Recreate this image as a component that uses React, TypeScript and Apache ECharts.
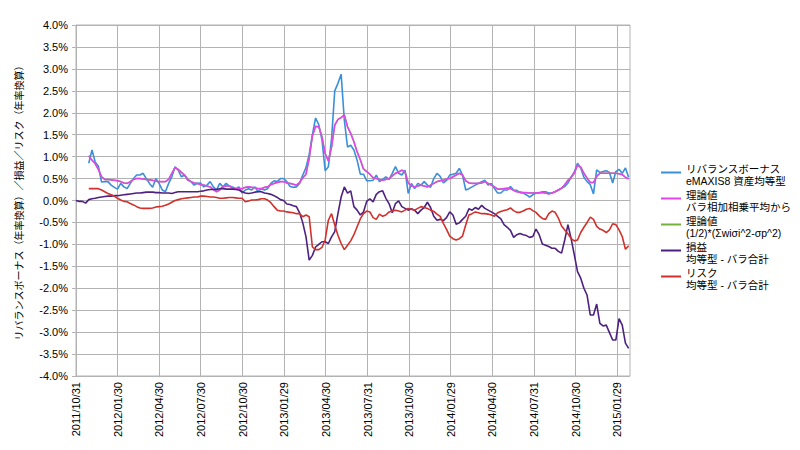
import React, { useEffect, useRef } from "react";
import * as echarts from "echarts";

// ---- data (values in %) : weekly samples starting 2011/10/31 ----
const START = [2011, 10, 31];
const WEEKS = 174;

const tickLabels = [
  "2011/10/31", "2012/01/30", "2012/04/30", "2012/07/30", "2012/10/30",
  "2013/01/29", "2013/04/30", "2013/07/31", "2013/10/30", "2014/01/29",
  "2014/04/30", "2014/07/31", "2014/10/30", "2015/01/29",
];
const axisEnd = "2015/02/26";

const seriesNames = [
  "リバランスボーナス\neMAXIS8 資産均等型",
  "理論値\nバラ相加相乗平均から",
  "理論値\n(1/2)*(Σwiσi^2-σp^2)",
  "損益\n均等型 - バラ合計",
  "リスク\n均等型 - バラ合計",
];

const rebalanceBonus = [
  null, null, null, null, 0.85, 1.15, 0.88, 0.78, 0.42, 0.43,
  0.43, 0.35, 0.3, 0.26, 0.39, 0.31, 0.27, 0.39, 0.5, 0.58,
  0.58, 0.62, 0.5, 0.39, 0.3, 0.5, 0.39, 0.24, 0.2, 0.39,
  0.54, 0.77, 0.69, 0.54, 0.58, 0.46, 0.43, 0.35, 0.39, 0.4,
  0.31, 0.35, 0.43, 0.31, 0.24, 0.39, 0.31, 0.39, 0.33, 0.31,
  0.27, 0.31, 0.17, 0.24, 0.27, 0.24, 0.31, 0.2, 0.27, 0.24,
  0.27, 0.39, 0.45, 0.43, 0.5, 0.5, 0.43, 0.32, 0.3, 0.31,
  0.39, 0.58, 0.75, 1.05, 1.5, 1.88, 1.73, 1.38, 0.68, 0.77,
  1.4, 2.5, 2.67, 2.88, 1.83, 1.22, 1.26, 1.15, 0.92, 0.6,
  0.6, 0.45, 0.45, 0.46, 0.58, 0.43, 0.48, 0.54, 0.48, 0.62,
  0.77, 0.62, 0.58, 0.69, 0.16, 0.39, 0.27, 0.39, 0.35, 0.43,
  0.35, 0.3, 0.5, 0.62, 0.55, 0.4, 0.46, 0.58, 0.6, 0.62,
  0.73, 0.58, 0.24, 0.27, 0.31, 0.35, 0.39, 0.43, 0.46, 0.35,
  0.39, 0.27, 0.17, 0.17, 0.24, 0.24, 0.32, 0.24, 0.23, 0.18,
  0.17, 0.13, 0.08, 0.13, 0.17, 0.17, 0.2, 0.2, 0.17, 0.17,
  0.2, 0.24, 0.28, 0.32, 0.4, 0.53, 0.65, 0.85, 0.74, 0.53,
  0.43, 0.36, 0.15, 0.7, 0.64, 0.66, 0.68, 0.64, 0.4, 0.66,
  0.71, 0.62, 0.74, 0.53,
];

const theoryMean = [
  null, null, null, null, 1.02, 0.92, 0.84, 0.71, 0.54, 0.48,
  0.48, 0.47, 0.46, 0.45, 0.43, 0.4, 0.39, 0.43, 0.48, 0.5,
  0.5, 0.49, 0.48, 0.47, 0.46, 0.44, 0.43, 0.43, 0.43, 0.48,
  0.62, 0.75, 0.71, 0.64, 0.58, 0.48, 0.43, 0.4, 0.39, 0.36,
  0.35, 0.33, 0.31, 0.25, 0.2, 0.24, 0.31, 0.33, 0.33, 0.28,
  0.27, 0.27, 0.27, 0.3, 0.31, 0.3, 0.29, 0.27, 0.27, 0.3,
  0.31, 0.36, 0.39, 0.41, 0.43, 0.43, 0.4, 0.39, 0.37, 0.35,
  0.41, 0.52, 0.6, 0.96, 1.47, 1.69, 1.68, 1.45, 1.07, 0.9,
  1.22, 1.72, 1.85, 1.89, 1.95, 1.68, 1.53, 1.34, 1.11, 0.93,
  0.72, 0.66, 0.6, 0.52, 0.5, 0.48, 0.46, 0.48, 0.5, 0.56,
  0.62, 0.65, 0.69, 0.65, 0.4, 0.33, 0.31, 0.33, 0.35, 0.33,
  0.31, 0.35, 0.39, 0.43, 0.45, 0.46, 0.49, 0.5, 0.54, 0.58,
  0.62, 0.58, 0.45, 0.4, 0.39, 0.39, 0.39, 0.4, 0.43, 0.39,
  0.35, 0.31, 0.26, 0.26, 0.27, 0.28, 0.27, 0.23, 0.2, 0.19,
  0.18, 0.18, 0.17, 0.17, 0.17, 0.18, 0.18, 0.17, 0.15, 0.17,
  0.2, 0.24, 0.28, 0.36, 0.46, 0.53, 0.62, 0.81, 0.76, 0.62,
  0.51, 0.41, 0.41, 0.55, 0.62, 0.62, 0.62, 0.62, 0.62, 0.62,
  0.61, 0.59, 0.53, 0.49,
];

// the second theoretical value coincides with the first one in the picture
const theoryCov = theoryMean.slice();

const profitLoss = [
  0.0, -0.02, -0.02, -0.06, 0.02, 0.04, 0.05, 0.07, 0.08, 0.09,
  0.1, 0.1, 0.11, 0.11, 0.12, 0.13, 0.14, 0.15, 0.16, 0.17,
  0.17, 0.18, 0.19, 0.19, 0.19, 0.18, 0.18, 0.17, 0.17, 0.17,
  0.16, 0.18, 0.2, 0.2, 0.2, 0.2, 0.2, 0.2, 0.2, 0.21,
  0.22, 0.24, 0.25, 0.25, 0.25, 0.27, 0.27, 0.26, 0.26, 0.26,
  0.25, 0.24, 0.2, 0.17, 0.16, 0.17, 0.19, 0.2, 0.2, 0.17,
  0.16, 0.14, 0.11, 0.07, 0.02, 0.0, -0.08, -0.09, -0.12, -0.14,
  -0.28, -0.51, -0.83, -1.36, -1.25, -1.06, -1.0, -0.94, -0.94, -0.98,
  -0.83, -0.71, -0.3, 0.08, 0.31, 0.17, 0.22, -0.14, -0.22, -0.33,
  -0.26, -0.02, 0.04, -0.03, 0.14, 0.2, 0.22, 0.05, -0.07, -0.28,
  -0.07, -0.01, -0.14, -0.18, -0.22, -0.19, -0.22, -0.3, -0.22, -0.16,
  -0.04, -0.16, -0.36, -0.45, -0.43, -0.46, -0.39, -0.26, -0.33, -0.54,
  -0.51, -0.43, -0.36, -0.19, -0.22, -0.16, -0.2, -0.11, -0.18, -0.22,
  -0.26, -0.3, -0.36, -0.42, -0.55, -0.61, -0.68, -0.84, -0.78, -0.75,
  -0.78, -0.8, -0.84, -0.82, -0.65, -0.78, -0.99, -1.02, -1.05, -1.09,
  -1.09, -1.16, -1.2, -0.9, -0.55, -0.87, -1.24, -1.62, -1.77, -2.0,
  -2.16, -2.61, -2.61, -2.36, -2.8, -2.86, -2.84, -3.01, -3.18, -3.18,
  -2.69, -2.84, -3.25, -3.37,
];

const risk = [
  null, null, null, null, 0.27, 0.27, 0.27, 0.27, 0.24, 0.2,
  0.16, 0.13, 0.1, 0.05, 0.01, -0.02, -0.03, -0.07, -0.1, -0.14,
  -0.17, -0.18, -0.18, -0.18, -0.17, -0.15, -0.14, -0.13, -0.11, -0.08,
  -0.04, 0.0, 0.02, 0.04, 0.05, 0.06, 0.07, 0.08, 0.08, 0.1,
  0.1, 0.09, 0.08, 0.08, 0.07, 0.05, 0.05, 0.06, 0.07, 0.07,
  0.06, 0.05, 0.05, -0.03, -0.01, 0.01, 0.01, 0.02, 0.04, 0.04,
  0.01, -0.05, -0.14, -0.22, -0.24, -0.24, -0.26, -0.27, -0.28, -0.3,
  -0.3, -0.37, -0.33, -0.37, -1.06, -1.12, -1.12, -1.07, -0.9, -0.45,
  -0.3, -0.56, -0.79, -0.98, -1.12, -1.02, -0.92, -0.78, -0.6, -0.42,
  -0.3, -0.24, -0.26, -0.39, -0.43, -0.31, -0.36, -0.33, -0.26, -0.24,
  -0.22, -0.24, -0.26, -0.22, -0.18, -0.2, -0.22, -0.18, -0.14, -0.16,
  -0.18, -0.22, -0.25, -0.31, -0.36, -0.52, -0.66, -0.81, -0.87, -0.9,
  -0.87, -0.81, -0.56, -0.33, -0.3, -0.26, -0.28, -0.3, -0.3, -0.31,
  -0.33, -0.36, -0.28, -0.25, -0.23, -0.21, -0.17, -0.23, -0.27, -0.27,
  -0.24, -0.2, -0.18, -0.23, -0.27, -0.35, -0.41, -0.43, -0.3, -0.24,
  -0.27, -0.4, -0.58, -0.67, -0.76, -0.87, -0.92, -0.9, -0.73, -0.61,
  -0.5, -0.38, -0.43, -0.59, -0.65, -0.68, -0.73, -0.67, -0.53, -0.55,
  -0.67, -0.82, -1.11, -1.03,
];

const colors = ["#3a8fd8", "#e046ec", "#72b23c", "#4d2180", "#d2302b"];

// ---- helpers ----
const FONT = "'Liberation Sans', 'Noto Sans CJK JP', sans-serif";
const LEGEND_ICON =
  "path://M0,0L0.01,0L0.01,0.01Z M0,3.5L20,3.5L20,5.5L0,5.5Z M0,14L0.01,14L0.01,13.99Z";
const toTs = (s: string) => {
  const [y, m, d] = s.split("/").map(Number);
  return new Date(y, m - 1, d).getTime();
};
const pad = (n: number) => (n < 10 ? "0" + n : "" + n);
const fmtDate = (v: number) => {
  const d = new Date(Math.round(v));
  return d.getFullYear() + "/" + pad(d.getMonth() + 1) + "/" + pad(d.getDate());
};
const sampleDates: number[] = [];
for (let i = 0; i < WEEKS; i++) {
  sampleDates.push(new Date(START[0], START[1] - 1, START[2] + i * 7).getTime());
}
const pairs = (vals: (number | null)[]) => vals.map((v, i) => [sampleDates[i], v]);

export default function App() {
  const ref = useRef<HTMLDivElement>(null);
  useEffect(() => {
    if (!ref.current) return;
    const chart = echarts.init(ref.current, undefined, { renderer: "svg" });
    const tickTs = tickLabels.map(toTs);
    const gray = "#b3b3b3";
    const data = [rebalanceBonus, theoryMean, theoryCov, profitLoss, risk];
    const zs = [2, 4, 3, 5, 6];
    chart.setOption({
      animation: false,
      backgroundColor: "#ffffff",
      textStyle: { fontFamily: FONT },
      grid: {
        left: 76, right: 170, top: 25, bottom: 74,
        show: true, borderColor: gray, borderWidth: 1, backgroundColor: "transparent",
      },
      legend: {
        orient: "vertical",
        left: 661,
        top: 160,
        padding: 0,
        itemGap: -4,
        itemWidth: 20,
        itemHeight: 14,
        icon: LEGEND_ICON,
        data: seriesNames,
        textStyle: {
          fontFamily: FONT, fontSize: 10.5, color: "#000", lineHeight: 12,
          padding: [6, 0, 0, 0],
        },
      },
      xAxis: {
        type: "value",
        min: toTs(tickLabels[0]),
        max: toTs(axisEnd),
        axisLine: { show: true, lineStyle: { color: gray, width: 1 } },
        axisTick: { show: false, customValues: tickTs },
        axisLabel: {
          customValues: tickTs,
          rotate: 90,
          fontSize: 11,
          color: "#000",
          margin: 6,
          fontFamily: FONT,
          formatter: (v: number) => fmtDate(v),
        },
        splitLine: { show: true, lineStyle: { color: gray, width: 1 } },
      },
      yAxis: {
        type: "value",
        min: -4, max: 4, interval: 0.5,
        name: "リバランスボーナス（年率換算）／損益／リスク（年率換算）",
        nameLocation: "middle",
        nameRotate: 90,
        nameGap: 52,
        nameTextStyle: { fontSize: 10, color: "#000", fontFamily: FONT },
        axisLine: { show: true, lineStyle: { color: gray, width: 1 } },
        axisTick: { show: true, length: 4, lineStyle: { color: gray } },
        axisLabel: {
          formatter: (v: number) => v.toFixed(1) + "%",
          fontSize: 11, color: "#000", margin: 8, fontFamily: FONT,
        },
        splitLine: { show: true, lineStyle: { color: gray, width: 1 } },
      },
      series: seriesNames.map((name, k) => ({
        name,
        type: "line",
        data: pairs(data[k]),
        symbol: "none",
        showSymbol: false,
        connectNulls: false,
        z: zs[k],
        itemStyle: { color: colors[k] },
        lineStyle: { color: colors[k], width: k === 2 ? 1.4 : 1.6 },
      })),
    });
    return () => chart.dispose();
  }, []);
  return (
    <div
      ref={ref}
      style={{ position: "fixed", left: 0, top: 0, width: 800, height: 450, background: "#fff" }}
    />
  );
}
